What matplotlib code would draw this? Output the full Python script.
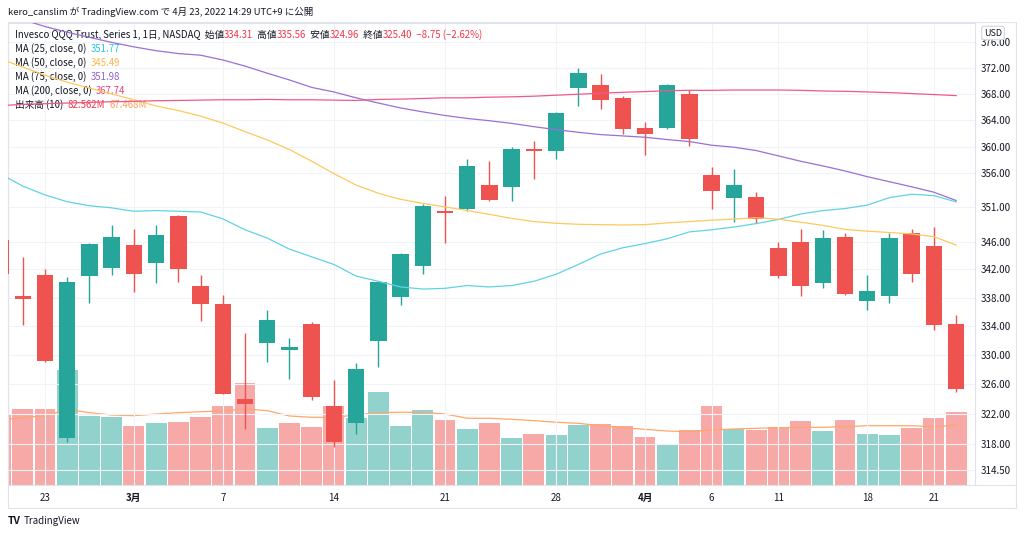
import numpy as np
import matplotlib
matplotlib.use('Agg')
import matplotlib.pyplot as plt
from matplotlib.ticker import FixedLocator, FuncFormatter, NullLocator
from matplotlib.patches import Rectangle
from matplotlib.lines import Line2D

plt.rcParams['font.family'] = ['Noto Sans CJK JP', 'DejaVu Sans']

# 日足データ (2022/02/18 - 2022/04/22), 画像から読み取り
opens = [346.2, 338.25, 341.15, 318.75, 341.05, 342.25, 345.45, 342.9, 349.7, 339.7,
         337.1, 323.95, 331.7, 330.65, 334.25, 323.0, 320.8, 331.95, 338.1, 342.55,
         350.45, 350.75, 354.2, 353.9, 359.7, 359.4, 368.95, 369.3, 367.3, 362.8,
         362.75, 368.0, 355.8, 352.4, 352.5, 345.0, 346.0, 340.0, 346.65, 337.55,
         338.2, 347.3, 345.4, 334.31]
highs = [346.8, 343.8, 342.05, 340.9, 345.8, 348.35, 347.85, 348.35, 349.85, 341.15,
         338.3, 333.1, 336.25, 332.4, 334.5, 326.55, 328.85, 340.4, 344.4, 351.5,
         352.7, 358.1, 357.9, 359.9, 360.8, 365.2, 372.05, 371.0, 367.7, 363.7,
         369.5, 368.6, 357.0, 356.6, 353.3, 346.0, 347.8, 347.7, 347.2, 341.2,
         347.2, 347.8, 348.1, 335.56]
lows = [340.9, 334.2, 329.0, 318.25, 337.3, 341.15, 338.8, 340.1, 340.2, 334.75,
        324.6, 319.9, 329.0, 326.65, 323.9, 317.55, 319.3, 328.4, 336.9, 341.4,
        345.8, 350.5, 351.9, 351.85, 355.1, 358.2, 366.1, 365.7, 361.9, 358.7,
        362.6, 360.1, 350.7, 348.9, 348.7, 340.8, 338.25, 339.3, 338.35, 336.2,
        337.25, 340.25, 333.5, 324.96]
closes = [341.3, 337.8, 329.2, 340.25, 345.6, 346.6, 341.3, 346.95, 342.05, 337.1,
          324.7, 323.3, 334.8, 331.15, 324.25, 318.2, 328.05, 340.15, 344.2, 351.2,
          350.15, 357.1, 352.0, 359.7, 359.4, 365.1, 371.2, 367.05, 362.6, 361.95,
          369.35, 361.2, 353.4, 354.3, 349.3, 341.05, 339.6, 346.55, 338.55, 338.9,
          346.45, 341.4, 334.15, 325.40]
volumes = [79.1, 85.5, 85.5, 130.0, 78.3, 77.2, 67.0, 70.4, 71.2, 76.5,
           89.3, 114.9, 64.1, 69.7, 65.9, 89.3, 76.0, 104.8, 67.0, 84.8,
           73.5, 63.3, 70.4, 53.4, 57.6, 56.5, 67.8, 68.6, 66.7, 54.2,
           46.0, 62.2, 89.3, 63.3, 62.2, 65.5, 72.3, 61.4, 73.1, 58.0,
           56.5, 64.7, 75.7, 82.562]
vol_ma10 = [73.5, 76.3, 78.0, 85.5, 81.7, 79.1, 78.3, 80.2, 81.7, 82.8,
            83.6, 85.9, 84.0, 78.0, 76.5, 76.5, 79.1, 81.7, 82.2, 82.2,
            80.2, 75.4, 75.4, 74.2, 72.7, 70.9, 69.7, 67.0, 64.7, 62.9,
            61.0, 60.2, 62.2, 63.3, 64.1, 64.7, 65.2, 65.2, 65.9, 67.0,
            67.0, 67.0, 65.9, 67.468]
ma25 = [355.9, 354.1, 352.8, 351.8, 351.2, 350.9, 350.4, 350.5, 350.4, 350.3,
        349.3, 347.7, 346.5, 344.9, 343.8, 342.7, 341.05, 340.3, 339.5, 339.2,
        339.3, 339.7, 339.5, 339.7, 340.3, 341.3, 342.7, 344.2, 345.1, 345.7,
        346.4, 347.4, 347.7, 348.1, 348.6, 349.2, 350.0, 350.5, 350.8, 351.3,
        352.4, 352.9, 352.7, 351.77]
ma50 = [373.4, 372.15, 370.9, 369.8, 368.9, 368.0, 367.1, 366.15, 365.45, 364.6,
        363.55, 362.25, 361.0, 359.55, 357.8, 355.95, 354.25, 353.05, 352.15, 351.55,
        351.05, 350.5, 349.95, 349.35, 348.9, 348.65, 348.5, 348.45, 348.4, 348.45,
        348.7, 348.9, 349.1, 349.25, 349.45, 349.25, 348.8, 348.35, 347.75, 347.5,
        347.3, 347.1, 346.7, 345.49]
ma75 = [380.5, 379.6, 378.5, 377.6, 376.8, 376.0, 375.3, 374.7, 374.25, 374.0,
        373.25, 372.3, 371.2, 370.15, 369.0, 368.3, 367.4, 366.6, 365.85, 365.25,
        364.7, 364.25, 363.9, 363.5, 363.0, 362.55, 362.15, 361.8, 361.6, 361.4,
        361.05, 360.75, 360.2, 359.9, 359.4, 358.6, 357.8, 357.1, 356.35, 355.5,
        354.75, 354.0, 353.2, 351.98]
ma200 = [366.2, 366.4, 366.5, 366.6, 366.7, 366.8, 366.85, 366.95, 367.0, 367.05,
         367.1, 367.1, 367.15, 367.1, 367.1, 367.05, 367.0, 367.15, 367.2, 367.3,
         367.4, 367.4, 367.5, 367.55, 367.65, 367.8, 367.95, 368.1, 368.25, 368.35,
         368.5, 368.55, 368.55, 368.6, 368.6, 368.6, 368.55, 368.45, 368.4, 368.3,
         368.2, 368.05, 367.9, 367.74]

tick_idx = [2, 6, 10, 15, 20, 25, 29, 32, 35, 39, 42]
tick_labels = ['23', '3月', '7', '14', '21', '28', '4月', '6', '11', '18', '21']
price_ticks = [314.5, 318, 322, 326, 330, 334, 338, 342, 346, 351, 356, 360, 364, 368, 372, 376]

UP, DOWN = '#26a69a', '#ef5350'
UP_V, DOWN_V = '#92d2cc', '#f7a9a7'
TXT = '#131722'
GRID = '#f0f3fa'
FRAME = '#e0e3eb'

o = np.array(opens); h = np.array(highs); l = np.array(lows); c = np.array(closes)
x = np.arange(len(c))
candle_col = np.where(c >= o, UP, DOWN)
prev_c = np.concatenate([[o[0]], c[:-1]])
vol_col = np.where(c >= prev_c, UP_V, DOWN_V)

W, H = 1024, 536
fig = plt.figure(figsize=(W / 100, H / 100), dpi=100)
fig.patch.set_facecolor('white')

# 出来高（下側のオーバーレイ）
ax = fig.add_axes([8 / W, 1 - 485 / H, (975 - 8) / W, (485 - 23) / H])
axv = ax.twinx()
ax.set_zorder(axv.get_zorder() + 1)
ax.patch.set_visible(False)

axv.bar(x, volumes, width=0.94, color=vol_col, linewidth=0)
axv.plot(x, vol_ma10, color='#ffa66b', lw=0.9)
axv.set_ylim(0, 522)
axv.set_yticks([])
for s in axv.spines.values():
    s.set_visible(False)

# ローソク足
ax.set_yscale('log')
ax.vlines(x, l, h, colors=candle_col, lw=1.0, zorder=3)
ax.bar(x, np.abs(c - o), bottom=np.minimum(o, c), width=0.74, color=candle_col,
       linewidth=0, zorder=4)

# 移動平均
ax.plot(x, ma25, color='#5fd3e6', lw=0.9, zorder=5)
ax.plot(x, ma50, color='#ffc85c', lw=0.9, zorder=5)
ax.plot(x, ma75, color='#9a6fd6', lw=0.9, zorder=5)
ax.plot(x, ma200, color='#f0588c', lw=0.9, zorder=5)

ax.set_xlim(0.335, 43.85)
ax.set_ylim(312.55, 379.06)
ax.yaxis.set_major_locator(FixedLocator(price_ticks))
ax.yaxis.set_minor_locator(NullLocator())
ax.yaxis.set_major_formatter(FuncFormatter(lambda v, _: f'{v:.2f}'))
ax.yaxis.tick_right()
ax.tick_params(axis='y', which='both', length=0, pad=4.0, labelsize=7, labelcolor=TXT)
ax.set_xticks(tick_idx)
ax.set_xticklabels(tick_labels)
ax.tick_params(axis='x', length=0, pad=6, labelsize=7, labelcolor=TXT)
for lab in ax.get_xticklabels():
    if '月' in lab.get_text():
        lab.set_fontweight('bold')
ax.grid(True, color=GRID, lw=0.8, zorder=0)
for s in ax.spines.values():
    s.set_color(FRAME)
    s.set_linewidth(0.8)

# 外枠
fig.add_artist(Rectangle((8 / W, 1 - 508 / H), (1016 - 8) / W, (508 - 22) / H,
                         transform=fig.transFigure, fill=False, ec=FRAME, lw=0.8))
fig.add_artist(Line2D([975 / W, 1016 / W], [1 - 485 / H, 1 - 485 / H],
                      transform=fig.transFigure, color=FRAME, lw=0.8))

fig.text(993 / W, 1 - 33 / H, 'USD', ha='center', va='center', fontsize=6.5, color=TXT,
         bbox=dict(boxstyle='round,pad=0.25', fc='white', ec='#d1d4dc', lw=0.8))

fig.text(8 / W, 1 - 12 / H, 'kero_canslim が TradingView.com で 4月 23, 2022 14:29 UTC+9 に公開',
         ha='left', va='center', fontsize=6.8, color=TXT)
fig.text(8 / W, 1 - 521 / H, 'TV', ha='left', va='center', fontsize=7.5,
         fontweight='bold', color=TXT)
fig.text(24 / W, 1 - 521 / H, 'TradingView', ha='left', va='center', fontsize=7, color=TXT)


def legend_line(y_px, parts, size=6.95):
    prev = None
    for s, col in parts:
        if prev is None:
            prev = ax.annotate(s, xy=(15, H - y_px), xycoords='figure pixels', va='center',
                               ha='left', fontsize=size, color=col, annotation_clip=False)
        else:
            prev = ax.annotate(s, xy=(1, 0), xycoords=prev, va='bottom', ha='left',
                               fontsize=size, color=col, annotation_clip=False)


RED = '#f23645'
chg = closes[-1] - closes[-2]
legend_line(35, [('Invesco QQQ Trust, Series 1, 1日, NASDAQ  始値', TXT), (f'{opens[-1]:.2f}', RED),
                 ('  高値', TXT), (f'{highs[-1]:.2f}', RED), ('  安値', TXT), (f'{lows[-1]:.2f}', RED),
                 ('  終値', TXT), (f'{closes[-1]:.2f}', RED),
                 (f'  {chg:.2f} ({chg / closes[-2] * 100:.2f}%)'.replace('-', '−'), RED)])
legend_line(49, [('MA (25, close, 0)  ', TXT), (f'{ma25[-1]:.2f}', '#26c6da')])
legend_line(63, [('MA (50, close, 0)  ', TXT), (f'{ma50[-1]:.2f}', '#ffb74d')])
legend_line(77, [('MA (75, close, 0)  ', TXT), (f'{ma75[-1]:.2f}', '#8c63d0')])
legend_line(91, [('MA (200, close, 0)  ', TXT), (f'{ma200[-1]:.2f}', '#ec407a')])
legend_line(105, [('出来高 (10)  ', TXT), (f'{volumes[-1]:.3f}M', RED),
                  ('  ', TXT), (f'{vol_ma10[-1]:.3f}M', '#ff9e5e')])

fig.savefig('out.png', dpi=100)
